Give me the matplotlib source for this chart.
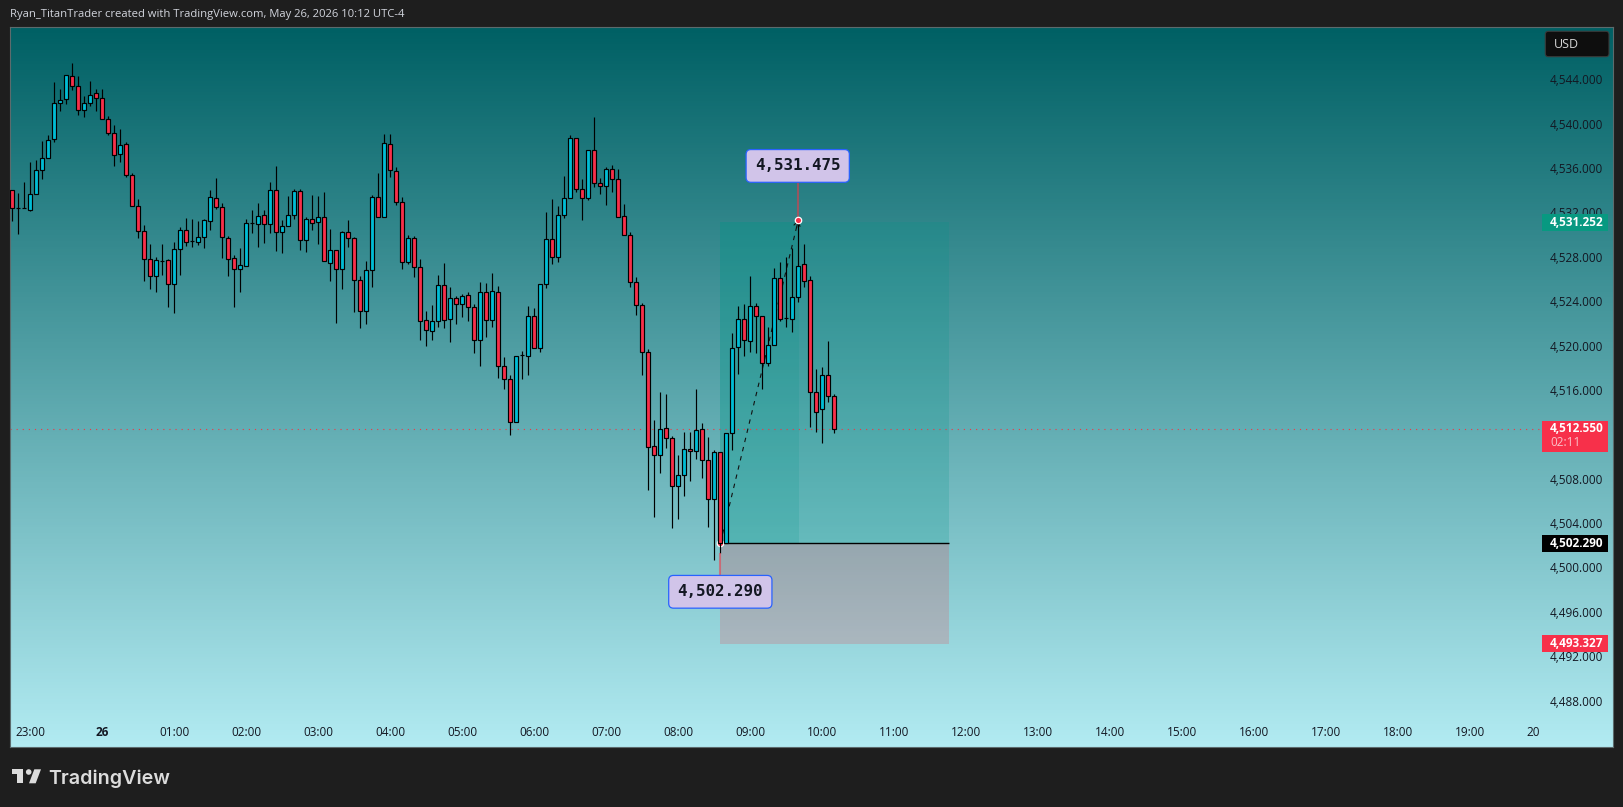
#!/usr/bin/env python3
"""Recreate a TradingView 5 minute candle chart with a long position box."""
import numpy as np
import matplotlib
matplotlib.use("Agg")
import matplotlib.pyplot as plt
from matplotlib.colors import LinearSegmentedColormap
from matplotlib.patches import Circle, Polygon, Rectangle, FancyBboxPatch

W, H = 1623, 807
FONT = "Open Sans"

OPENS = [
    4533.99, 4532.37, 4532.37, 4532.25, 4533.63, 4535.79, 4536.88, 4538.59, 4541.83, 4542.19,
    4544.27, 4543.36, 4541.20, 4541.83, 4542.73, 4542.28, 4540.39, 4539.13, 4537.24, 4538.14,
    4535.34, 4532.55, 4530.30, 4527.77, 4526.24, 4527.59, 4527.68, 4525.52, 4528.67, 4530.39,
    4529.40, 4529.31, 4529.76, 4531.20, 4533.27, 4532.46, 4529.67, 4527.86, 4526.87, 4527.14,
    4531.02, 4530.93, 4531.74, 4530.93, 4533.99, 4530.20, 4530.74, 4531.74, 4533.90, 4529.48,
    4531.38, 4531.11, 4531.56, 4527.41, 4528.58, 4526.87, 4530.20, 4529.66, 4525.88, 4523.08,
    4526.78, 4533.36, 4531.56, 4538.13, 4535.70, 4532.91, 4527.50, 4529.66, 4527.05, 4522.27,
    4521.28, 4522.18, 4525.43, 4522.36, 4524.26, 4523.72, 4524.53, 4523.45, 4520.47, 4524.80,
    4522.27, 4524.80, 4518.13, 4516.96, 4513.08, 4519.12, 4519.03, 4522.63, 4519.75, 4525.52,
    4529.57, 4527.95, 4531.74, 4533.27, 4538.68, 4534.08, 4533.33, 4537.59, 4534.62, 4534.35,
    4535.88, 4534.98, 4531.65, 4529.93, 4525.70, 4523.63, 4519.39, 4510.92, 4510.11, 4512.54,
    4511.64, 4507.31, 4508.30, 4510.65, 4510.47, 4512.45, 4509.66, 4506.15, 4510.38, 4502.20,
    4512.09, 4519.85, 4522.37, 4520.39, 4523.54, 4522.64, 4518.40, 4520.03, 4526.06, 4522.46,
    4522.37, 4524.35, 4527.33, 4525.88, 4515.79, 4514.26, 4517.32, 4515.43,
]
HIGHS = [
    4533.99, 4533.72, 4534.71, 4536.55, 4536.70, 4538.41, 4538.95, 4543.72, 4543.09, 4544.36,
    4545.44, 4544.27, 4542.52, 4543.81, 4543.09, 4543.09, 4540.69, 4539.88, 4539.52, 4538.35,
    4535.52, 4533.21, 4530.87, 4529.16, 4527.95, 4529.16, 4527.77, 4529.34, 4530.69, 4531.50,
    4531.41, 4531.23, 4531.38, 4534.02, 4535.10, 4532.85, 4529.88, 4528.16, 4528.76, 4531.41,
    4532.22, 4532.85, 4532.22, 4534.74, 4536.18, 4531.29, 4533.45, 4534.11, 4534.08, 4531.56,
    4533.54, 4533.45, 4533.81, 4530.47, 4528.58, 4530.29, 4531.29, 4529.75, 4526.24, 4527.59,
    4533.54, 4535.52, 4539.04, 4539.04, 4536.06, 4533.36, 4529.93, 4529.84, 4527.77, 4523.11,
    4523.63, 4526.33, 4527.41, 4525.25, 4524.44, 4524.62, 4524.80, 4523.72, 4525.70, 4525.61,
    4526.51, 4525.34, 4518.94, 4517.32, 4519.09, 4519.48, 4523.54, 4523.35, 4525.52, 4532.01,
    4533.18, 4532.55, 4535.25, 4538.95, 4538.68, 4534.98, 4537.59, 4540.57, 4535.07, 4536.06,
    4536.24, 4535.88, 4532.73, 4530.20, 4526.15, 4523.81, 4519.66, 4513.26, 4515.79, 4515.60,
    4511.82, 4510.11, 4512.18, 4512.18, 4516.06, 4512.99, 4511.73, 4510.56, 4510.38, 4512.09,
    4521.11, 4523.54, 4523.75, 4526.27, 4523.81, 4522.64, 4521.65, 4526.96, 4527.51, 4527.96,
    4528.77, 4531.32, 4529.13, 4526.24, 4517.86, 4518.04, 4520.39, 4515.61,
]
LOWS = [
    4531.23, 4530.09, 4532.37, 4532.16, 4533.63, 4535.01, 4536.88, 4538.38, 4541.17, 4541.80,
    4543.06, 4540.81, 4540.63, 4541.62, 4541.17, 4540.39, 4539.01, 4536.21, 4536.58, 4535.22,
    4532.55, 4529.73, 4525.85, 4525.13, 4524.86, 4526.39, 4523.51, 4522.97, 4526.39, 4529.01,
    4528.92, 4529.10, 4528.83, 4530.42, 4532.31, 4527.92, 4526.30, 4523.51, 4524.86, 4527.14,
    4530.18, 4528.92, 4529.28, 4530.18, 4528.55, 4528.37, 4530.74, 4531.44, 4528.64, 4528.46,
    4530.44, 4529.18, 4527.59, 4525.85, 4522.06, 4525.13, 4528.91, 4523.05, 4521.61, 4521.97,
    4525.31, 4531.56, 4531.56, 4535.22, 4532.70, 4526.93, 4527.38, 4526.21, 4520.53, 4519.99,
    4520.53, 4521.70, 4521.61, 4520.35, 4521.97, 4522.60, 4522.24, 4519.36, 4518.19, 4520.80,
    4521.70, 4517.11, 4516.12, 4511.97, 4513.08, 4517.02, 4517.38, 4519.75, 4519.45, 4525.22,
    4527.38, 4527.56, 4531.53, 4533.27, 4533.81, 4531.35, 4533.15, 4534.32, 4533.69, 4532.67,
    4533.87, 4531.56, 4529.93, 4525.25, 4522.78, 4517.38, 4507.01, 4504.58, 4508.55, 4510.80,
    4503.59, 4504.40, 4506.47, 4507.82, 4509.81, 4508.09, 4503.68, 4500.68, 4501.34, 4502.20,
    4510.62, 4517.47, 4519.09, 4519.45, 4519.36, 4516.12, 4518.19, 4520.03, 4522.19, 4521.71,
    4521.26, 4523.96, 4525.31, 4512.70, 4512.24, 4511.25, 4514.89, 4512.16,
]
CLOSES = [
    4532.37, 4532.37, 4532.37, 4533.69, 4535.79, 4536.88, 4538.50, 4541.83, 4542.10, 4544.36,
    4543.36, 4541.20, 4541.83, 4542.55, 4542.28, 4540.39, 4539.13, 4537.15, 4538.05, 4535.34,
    4532.55, 4530.30, 4527.77, 4526.24, 4527.68, 4527.59, 4525.52, 4528.67, 4530.39, 4529.31,
    4529.40, 4529.76, 4531.29, 4533.36, 4532.46, 4529.76, 4527.77, 4526.87, 4527.23, 4531.02,
    4531.02, 4531.65, 4530.93, 4533.99, 4530.21, 4530.74, 4531.74, 4533.90, 4529.48, 4531.38,
    4531.02, 4531.56, 4527.59, 4528.58, 4526.87, 4530.20, 4529.66, 4525.88, 4523.08, 4526.78,
    4533.36, 4531.56, 4538.22, 4535.79, 4532.91, 4527.50, 4529.66, 4527.05, 4522.18, 4521.37,
    4522.18, 4525.43, 4522.27, 4524.26, 4523.72, 4524.44, 4523.45, 4520.47, 4524.80, 4522.27,
    4524.89, 4518.13, 4516.96, 4513.08, 4519.09, 4519.12, 4522.63, 4519.75, 4525.52, 4529.57,
    4527.95, 4531.74, 4533.27, 4538.68, 4534.08, 4533.27, 4537.59, 4534.62, 4534.35, 4535.88,
    4534.98, 4531.56, 4529.93, 4525.70, 4523.63, 4519.39, 4510.83, 4510.11, 4512.51, 4511.64,
    4507.31, 4508.30, 4510.65, 4510.47, 4512.42, 4509.66, 4506.14, 4510.38, 4502.20, 4512.09,
    4519.75, 4522.37, 4520.48, 4523.54, 4522.64, 4518.40, 4520.03, 4526.06, 4522.37, 4522.46,
    4524.35, 4527.14, 4525.79, 4515.79, 4513.99, 4517.32, 4515.43, 4512.46,
]

PRICE_TICKS = list(range(4488, 4545, 4))
TIME_TICKS = [3 + 12 * k for k in range(21)] + [253.5]
TIME_LABELS = ["23:00", "26"] + [f"{h:02d}:00" for h in range(1, 20)] + ["20"]

# long position tool
BOX_LEFT, BOX_PEAK, BOX_RIGHT = 117.95, 131.1, 156.1
ENTRY_BAR, PEAK_BAR = 118, 131
ENTRY, TARGET, STOP = 4502.2, 4531.17, 4493.13
PEAK = 4531.32
LAST = 4512.46
PEAK_LABEL, ENTRY_LABEL = "4,531.475", "4,502.290"
PEAK_LABEL_Y, ENTRY_LABEL_Y = 4536.19, 4497.81

TEAL = "#00bcd4"
RED = "#f7304a"

plt.rcParams["font.family"] = [FONT, "DejaVu Sans"]

fig = plt.figure(figsize=(W / 100, H / 100), dpi=100, facecolor="#1e1e1e")
ax = fig.add_axes([10 / W, 1 - 746.7 / H, 1602.7 / W, 719.7 / H])

# background
bg = LinearSegmentedColormap.from_list("bg", ["#006064", "#b2ebf2"])
ax.imshow(np.linspace(0, 1, 720).reshape(-1, 1), cmap=bg, aspect="auto",
          extent=[0, 1, 0, 1], transform=ax.transAxes, zorder=0)

ax.set_xlim(-0.388, 266.73)
ax.set_ylim(4483.85, 4548.71)

for s in ax.spines.values():
    s.set_color("#5c6b6d")
    s.set_linewidth(0.8)

ax.yaxis.tick_right()
ax.set_yticks(PRICE_TICKS)
ax.set_yticklabels([f"{p:,}.000" for p in PRICE_TICKS])
ax.tick_params(axis="y", length=0, pad=-45.2, labelsize=8.5, labelcolor="#131722")
ax.set_xticks(TIME_TICKS)
ax.set_xticklabels(TIME_LABELS)
ax.tick_params(axis="x", length=0, pad=-14.8, labelsize=8.5, labelcolor="#131722")
ax.get_xticklabels()[1].set_fontweight("bold")

# position zones
ax.fill_between([BOX_LEFT, BOX_RIGHT], ENTRY, TARGET, color="#009688", alpha=0.2, lw=0, zorder=1)
ax.fill_between([BOX_LEFT, BOX_PEAK], ENTRY, TARGET, color="#009688", alpha=0.17, lw=0, zorder=1)
ax.fill_between([BOX_LEFT, BOX_RIGHT], STOP, ENTRY, color="#f23645", alpha=0.2, lw=0, zorder=1)
ax.plot([BOX_LEFT, BOX_RIGHT], [ENTRY, ENTRY], color="black", lw=1.0, zorder=2, solid_capstyle="butt")

# last price line
ax.plot([-0.388, 254.6], [LAST, LAST], color="#f23645", lw=0.8, ls=(0, (1, 4.5)), zorder=2)

# dashed trade path sits behind the candles
ax.plot([ENTRY_BAR, PEAK_BAR], [ENTRY, PEAK], color="#111111", lw=0.8,
        ls=(0, (4, 4.5)), zorder=2.8)
ax.annotate("", xy=(PEAK_BAR, PEAK), xytext=(PEAK_BAR - 0.3, PEAK - 0.7),
            arrowprops=dict(arrowstyle="->,head_length=0.35,head_width=0.22",
                            color="#111111", lw=0.8, shrinkA=0, shrinkB=0), zorder=2.8)
ax.plot([ENTRY_BAR], [ENTRY], ls="none", marker="o", ms=4.6, mfc=RED, mec="white", mew=0.9, zorder=2.9)

# candles
xs = np.arange(len(OPENS))
opens, highs, lows, closes = map(np.array, (OPENS, HIGHS, LOWS, CLOSES))
colors = [TEAL if c >= o else RED for o, c in zip(opens, closes)]
ax.vlines(xs, lows, highs, color="black", lw=0.85, zorder=3)
ax.bar(xs, closes - opens, bottom=opens, width=4 / 6, color=colors,
       edgecolor="black", linewidth=0.85, zorder=3.1)

# stems and labels
ax.vlines([PEAK_BAR], PEAK, PEAK_LABEL_Y, color="#f23645", alpha=0.55, lw=1.5, zorder=4)
ax.vlines([ENTRY_BAR], ENTRY_LABEL_Y, min(LOWS[ENTRY_BAR], ENTRY), color="#f23645", alpha=0.55, lw=1.5, zorder=4)
ax.plot([PEAK_BAR], [PEAK], ls="none", marker="o", ms=4.6, mfc=RED, mec="white", mew=0.9, zorder=5)
for x, y, txt in [(PEAK_BAR - 0.1, PEAK_LABEL_Y, PEAK_LABEL), (ENTRY_BAR, ENTRY_LABEL_Y, ENTRY_LABEL)]:
    ax.text(x, y, txt, ha="center", va="center", family="DejaVu Sans Mono", fontsize=11.4,
            fontweight="bold", color="#131722", zorder=6,
            bbox=dict(boxstyle="round,pad=0.56,rounding_size=0.3", fc="#d1c4e9", ec="#2962ff", lw=0.9))


def pill(price, height_px, color, label, sub=None, top=None):
    """Price scale tag; price is the centre unless top is given."""
    h = height_px / 11.096
    y0 = price - h / 2 if top is None else top - h
    ax.add_patch(Rectangle(((1542 - 10) / 1602.7, y0), 65.7 / 1602.7, h, fc=color, ec="none",
                           transform=ax.get_yaxis_transform(), zorder=6))
    yt = price if top is None else top - 8 / 11.096
    ax.text((1550 - 10) / 1602.7, yt, label, color="white", fontsize=8.5, fontweight="bold",
            va="center", ha="left", transform=ax.get_yaxis_transform(), zorder=7)
    if sub:
        ax.text((1550 - 10) / 1602.7, top - 21.7 / 11.096, sub, color="#fbc1c8", fontsize=8.5,
                va="center", ha="left", transform=ax.get_yaxis_transform(), zorder=7)


pill(4531.11, 16.7, "#089981", "4,531.252")
pill(4502.15, 16.7, "#000000", "4,502.290")
pill(4493.15, 16.4, RED, "4,493.327")
pill(LAST, 31, RED, "4,512.550", sub="02:11", top=LAST + 8.3 / 11.096)

# overlays in figure coordinates
def fx(px):
    return px / W


def fy(py):
    return 1 - py / H


usd = FancyBboxPatch((fx(1545.3), fy(56.7)), 63.7 / W, 25.4 / H, boxstyle="round,pad=0,rounding_size=0.002",
                     transform=fig.transFigure, fc="#0e0e0e", ec="#3a3a3a", lw=0.8, zorder=8, mutation_aspect=2)
fig.add_artist(usd)
fig.text(fx(1554), fy(44), "USD", color="#d6d6d6", fontsize=9, va="center", ha="left", zorder=9)

fig.text(fx(10), fy(15), "Ryan_TitanTrader created with TradingView.com, May 26, 2026 10:12 UTC-4",
         color="#d1d4dc", fontsize=8.1, va="center", ha="left")

# logo
LOGO = "#dcdcdc"
for pts in ([(12.3, 769.3), (23.3, 769.3), (23.3, 783.3), (17.3, 783.3), (17.3, 774.3), (12.3, 774.3)],
            [(34.3, 769.3), (41, 769.3), (35.7, 783.3), (29, 783.3)]):
    fig.add_artist(Polygon([(fx(a), fy(b)) for a, b in pts], closed=True, fc=LOGO, ec="none",
                           transform=fig.transFigure))
fig.add_artist(Circle((28.7, H - 772), 2.8, fc=LOGO, ec="none", transform=None))
fig.text(fx(48.7), fy(784), "TradingView", color=LOGO, fontsize=14.2, family="Inter",
         fontweight="semibold", va="baseline", ha="left")

fig.savefig("out.png", dpi=100, facecolor=fig.get_facecolor())
